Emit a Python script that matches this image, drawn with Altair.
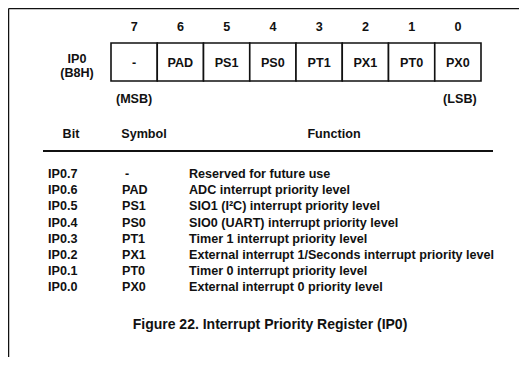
import altair as alt
import pandas as pd

# ---- content ----
bits = [7, 6, 5, 4, 3, 2, 1, 0]
cell_labels = ["-", "PAD", "PS1", "PS0", "PT1", "PX1", "PT0", "PX0"]
reg_name = ["IP0", "(B8H)"]
row_bits = ["IP0.7", "IP0.6", "IP0.5", "IP0.4", "IP0.3", "IP0.2", "IP0.1", "IP0.0"]
row_symbols = ["-", "PAD", "PS1", "PS0", "PT1", "PX1", "PT0", "PX0"]
row_functions = [
    "Reserved for future use",
    "ADC interrupt priority level",
    "SIO1 (I\u00b2C) interrupt priority level",
    "SIO0 (UART) interrupt priority level",
    "Timer 1 interrupt priority level",
    "External interrupt 1/Seconds interrupt priority level",
    "Timer 0 interrupt priority level",
    "External interrupt 0 priority level",
]
headers = ["Bit", "Symbol", "Function"]
caption = "Figure 22.  Interrupt Priority Register (IP0)"

# ---- layout (page pixels) ----
REG_L, REG_R, REG_T, REG_B = 111, 481, 43, 81
CW = (REG_R - REG_L) / len(bits)
BITNUM_Y = 27
ROW_Y0, ROW_DY = 174, 16.2
COL_BIT, COL_SYM, COL_FUN = 48, 122, 189
HDR_Y = 134
RULE_Y = 151
FONT = "Liberation Sans"
FS = 12.6
INK = "#111111"

W, H = 511, 349
xs = alt.Scale(domain=[8, 8 + W], nice=False, zero=False)
ys = alt.Scale(domain=[8, 8 + H], nice=False, zero=False, reverse=True)


def X(f="x"):
    return alt.X(f"{f}:Q", scale=xs, axis=None)


def Y(f="y"):
    return alt.Y(f"{f}:Q", scale=ys, axis=None)


cells = pd.DataFrame({
    "bit": bits,
    "label": cell_labels,
    "x": [REG_L + i * CW for i in range(len(bits))],
    "x2": [REG_L + (i + 1) * CW for i in range(len(bits))],
    "xc": [REG_L + (i + 0.5) * CW for i in range(len(bits))],
    "y": REG_T, "y2": REG_B, "yc": (REG_T + REG_B) / 2 + 0.5, "yn": BITNUM_Y,
})

rects = alt.Chart(cells).mark_rect(fill="white", stroke=INK, strokeWidth=1.6).encode(
    x=X("x"), x2="x2:Q", y=Y("y"), y2="y2:Q")

txt = dict(font=FONT, fontSize=FS, fontWeight="bold", color=INK, baseline="middle")

cell_txt = alt.Chart(cells).mark_text(align="center", **txt).encode(
    x=X("xc"), y=Y("yc"), text="label:N")
num_txt = alt.Chart(cells).mark_text(align="center", **txt).encode(
    x=X("xc"), y=Y("yn"), text="bit:N")

side = pd.DataFrame({"t": reg_name + ["(MSB)", "(LSB)"],
                     "x": [77, 77, REG_L + 0.5 * CW, REG_R - 0.5 * CW + 2],
                     "y": [59, 73, 99, 99]})
side_txt = alt.Chart(side).mark_text(align="center", **txt).encode(
    x=X(), y=Y(), text="t:N")

hdr = pd.DataFrame({"t": headers, "x": [71, 144, 334], "y": HDR_Y})
hdr_txt = alt.Chart(hdr).mark_text(align="center", **txt).encode(
    x=X(), y=Y(), text="t:N")

rows = pd.DataFrame({
    "b": row_bits, "s": row_symbols, "f": row_functions,
    "y": [ROW_Y0 + i * ROW_DY for i in range(len(row_bits))],
    "xb": COL_BIT, "xf": COL_FUN,
})
rows["xs_adj"] = [COL_SYM + (3 if s == "-" else 0) for s in row_symbols]
bit_col = alt.Chart(rows).mark_text(align="left", **txt).encode(x=X("xb"), y=Y(), text="b:N")
sym_col = alt.Chart(rows).mark_text(align="left", **txt).encode(x=X("xs_adj"), y=Y(), text="s:N")
fun_col = alt.Chart(rows).mark_text(align="left", **txt).encode(x=X("xf"), y=Y(), text="f:N")

rule_df = pd.DataFrame({"x": [43], "x2": [493], "y": [RULE_Y]})
hrule = alt.Chart(rule_df).mark_rule(color=INK, strokeWidth=2).encode(
    x=X("x"), x2="x2:Q", y=Y("y"))

border = pd.DataFrame({"x": [8.6, 8.6], "x2": [8 + W, 8.6], "y": [8.6, 8.6], "y2": [8.6, 8 + H]})
border_l = alt.Chart(border).mark_rule(color=INK, strokeWidth=1.3).encode(
    x=X("x"), x2="x2:Q", y=Y("y"), y2="y2:Q")

cap = pd.DataFrame({"t": [caption], "x": [270], "y": [325]})
cap_txt = alt.Chart(cap).mark_text(align="center", font=FONT, fontSize=14, fontWeight="bold",
                                   color=INK, baseline="middle").encode(x=X(), y=Y(), text="t:N")

chart = alt.layer(border_l, rects, cell_txt, num_txt, side_txt, hdr_txt, hrule,
                  bit_col, sym_col, fun_col, cap_txt).properties(
    width=W, height=H, padding=0, autosize=alt.AutoSizeParams(type="none"),
    background="white",
).configure_view(strokeWidth=0)

chart.save("out.html", embed_options={"renderer": "svg", "actions": False})
